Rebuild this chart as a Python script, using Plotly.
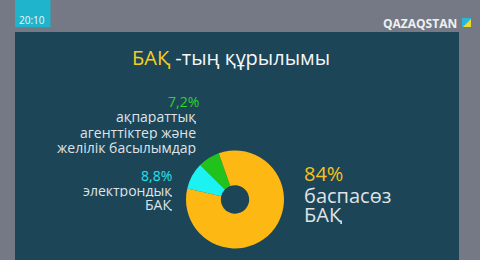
import plotly.graph_objects as go

W, H = 480, 260

# Data
categories = ["ақпараттық агенттіктер және желілік басылымдар", "электрондық БАҚ", "баспасөз БАҚ"]
values = [7.2, 8.8, 84]
slice_colors = ["#22c21c", "#1cf2f2", "#fdb813"]
label_lines = [["ақпараттық", "агенттіктер және", "желілік басылымдар"],
               ["электрондық", "БАҚ"],
               ["баспасөз", "БАҚ"]]

def fmt(v):
    s = f"{v:g}%"
    return s.replace(".", ",")

def px(x):
    return x / W

def py(y):
    return 1 - y / H

FONT = "Open Sans"
BG = "#747985"
PANEL = "#1d4558"
TXT = "#dfe3e6"

fig = go.Figure()
fig.add_trace(go.Pie(
    labels=categories, values=values, sort=False,
    direction="counterclockwise", rotation=-45.3,
    hole=0.29, textinfo="none", hoverinfo="label+percent",
    marker=dict(colors=slice_colors, line=dict(width=0)),
    domain=dict(x=[px(186), px(284)], y=[py(248.5), py(150.5)]),
    showlegend=False,
))

shapes = [
    dict(type="rect", xref="paper", yref="paper", x0=px(15), x1=px(459), y0=py(262), y1=py(32),
         fillcolor=PANEL, line=dict(width=0), layer="below"),
    dict(type="rect", xref="paper", yref="paper", x0=px(15), x1=px(50.5), y0=py(27.3), y1=py(-2),
         fillcolor="#1fb4cb", line=dict(width=0), layer="below"),
    dict(type="rect", xref="paper", yref="paper", x0=px(462), x1=px(471), y0=py(27), y1=py(18),
         fillcolor="#2bb5d6", line=dict(width=0)),
    dict(type="path", xref="paper", yref="paper",
         path=f"M {px(471)},{py(19)} L {px(471)},{py(27)} L {px(463)},{py(27)} Z",
         fillcolor="#e8dc35", line=dict(width=0)),
]

ann = []
def text(x, y, s, size, color, xanchor="left", bold=False, h=None):
    a = dict(x=px(x), y=py(y), xref="paper", yref="paper", text=(f"<b>{s}</b>" if bold else s),
             showarrow=False, xanchor=xanchor, yanchor="middle", borderpad=0,
             font=dict(family=FONT, size=size, color=color))
    if h:
        a["height"] = h
    ann.append(a)

text(31.5, 20, "20:10", 10, "#f2f6f8", xanchor="center")
text(458, 23, "QAZAQSTAN", 12, "#eef0f2", xanchor="right", bold=True)
text(231, 58, "<span style='color:#f6cf1c'>БАҚ</span> -тың құрылымы", 20, "#f4f6f7", xanchor="center")

# green label
text(200, 101, fmt(values[0]), 14, "#2fd22a", xanchor="right", h=16)
for ln, y in zip(label_lines[0], [116.5, 132, 147]):
    text(197, y, ln, 14, TXT, xanchor="right", h=15)
# cyan label
text(173, 175.5, fmt(values[1]), 14, "#22e4ee", xanchor="right", h=15)
for ln, y in zip(label_lines[1], [190, 204]):
    text(173, y, ln, 14, TXT, xanchor="right", h=14)
# yellow label
text(303, 173, fmt(values[2]), 20, "#f7c21c", h=20)
for ln, y in zip(label_lines[2], [195, 214]):
    text(303, y, ln, 20, TXT, h=19)

fig.update_layout(
    width=W, height=H, margin=dict(l=0, r=0, t=0, b=0),
    paper_bgcolor=BG, plot_bgcolor=BG,
    shapes=shapes, annotations=ann,
)

fig.write_html("out.html")
